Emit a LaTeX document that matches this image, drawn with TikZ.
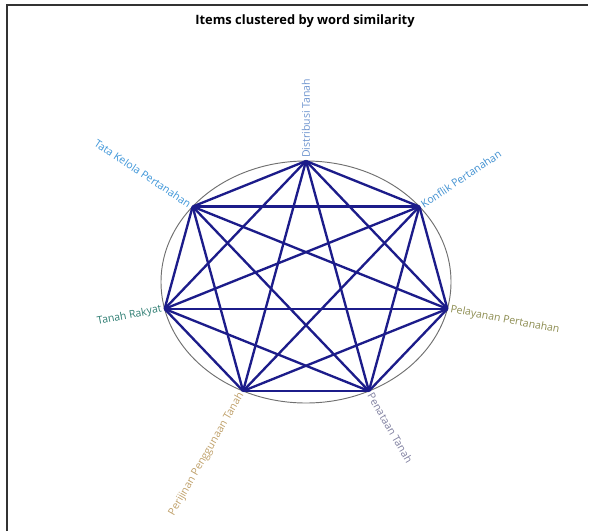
\documentclass[tikz,border=0pt]{standalone}
\usepackage{fontspec}
\setmainfont{Open Sans}
\definecolor{edgeblue}{HTML}{1C1C8A}
\definecolor{ringgray}{HTML}{707070}
\definecolor{frameline}{HTML}{333333}
\definecolor{cDistribusi}{HTML}{6F95CF}
\definecolor{cKonflik}{HTML}{3F8FD0}
\definecolor{cPelayanan}{HTML}{8C8C50}
\definecolor{cPenataan}{HTML}{8080A0}
\definecolor{cPerijinan}{HTML}{BFA06A}
\definecolor{cRakyat}{HTML}{2E7D72}
\definecolor{cTataKelola}{HTML}{3D95D8}
\begin{document}
\begin{tikzpicture}[x=0.03cm, y=-0.03cm,
	link/.style={draw=edgeblue, line width=2pt},
	ring/.style={draw=ringgray, line width=0.8pt},
	itemlabel/.style={font=\fontsize{9}{11}\selectfont, inner sep=2.5pt},
	titlelabel/.style={font=\fontsize{11}{13}\selectfont\bfseries}]
	\useasboundingbox (0,0) rectangle (597,531);
	% Frame and title:
	\draw[frameline, line width=1.2pt] (7,531) -- (7,5) -- (588,5);
	\node[titlelabel] (title) at (305,21) {Items clustered by word similarity};
	% Ring and item positions:
	\draw[ring] (306,282) ellipse [x radius=145, y radius=121];
	\coordinate (distribusi) at (306,161);
	\coordinate (konflik) at (419.4,206.6);
	\coordinate (pelayanan) at (447.4,308.9);
	\coordinate (penataan) at (368.9,391);
	\coordinate (perijinan) at (243.1,391);
	\coordinate (rakyat) at (164.6,308.9);
	\coordinate (tatakelola) at (192.6,206.6);
	% Links between every pair of items:
	\foreach \a/\b in {distribusi/konflik, distribusi/pelayanan, distribusi/penataan,
		distribusi/perijinan, distribusi/rakyat, distribusi/tatakelola,
		konflik/pelayanan, konflik/penataan, konflik/perijinan, konflik/rakyat,
		konflik/tatakelola, pelayanan/penataan, pelayanan/perijinan,
		pelayanan/rakyat, pelayanan/tatakelola, penataan/perijinan,
		penataan/rakyat, penataan/tatakelola, perijinan/rakyat,
		perijinan/tatakelola, rakyat/tatakelola}
		\draw[link] (\a) -- (\b);
	% Item labels:
	\node[itemlabel, text=cDistribusi, rotate=90, anchor=west] (lbldistribusi) at (distribusi) {Distribusi Tanah};
	\node[itemlabel, text=cKonflik, rotate=33.6, anchor=west] (lblkonflik) at (konflik) {Konflik Pertanahan};
	\node[itemlabel, text=cPelayanan, rotate=-10.8, anchor=west] (lblpelayanan) at (pelayanan) {Pelayanan Pertanahan};
	\node[itemlabel, text=cPenataan, rotate=-60, anchor=west] (lblpenataan) at (penataan) {Penataan Tanah};
	\node[itemlabel, text=cPerijinan, rotate=60, anchor=east] (lblperijinan) at (perijinan) {Perijinan Penggunaan Tanah};
	\node[itemlabel, text=cRakyat, rotate=10.8, anchor=east] (lblrakyat) at (rakyat) {Tanah Rakyat};
	\node[itemlabel, text=cTataKelola, rotate=-33.6, anchor=east] (lbltatakelola) at (tatakelola) {Tata Kelola Pertanahan};
\end{tikzpicture}
\end{document}
